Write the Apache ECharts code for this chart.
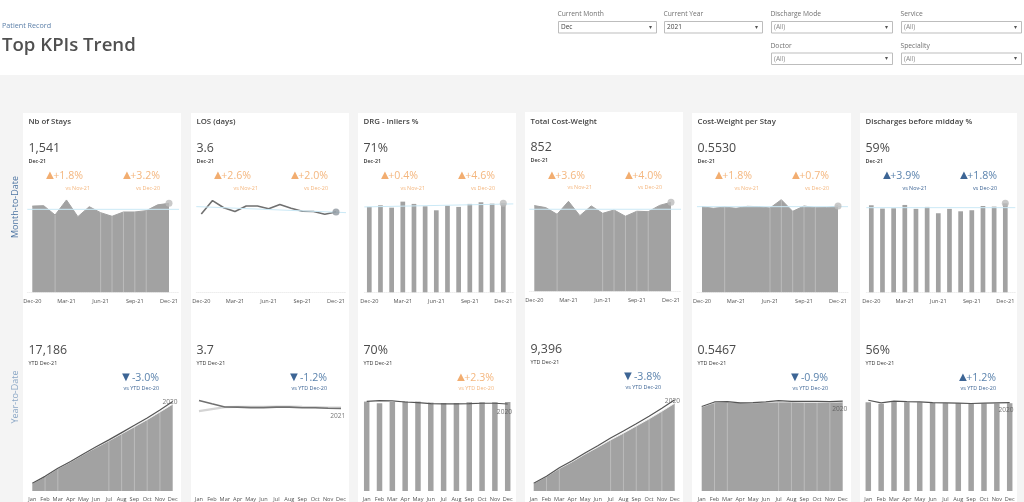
<!DOCTYPE html>
<html><head><meta charset="utf-8">
<style>html,body{margin:0;padding:0;background:#fff;overflow:hidden}#c{width:1024px;height:502px;filter:blur(0.4px)}</style>
<script src="https://cdn.jsdelivr.net/npm/echarts@6/dist/echarts.min.js"></script>
</head><body><div id="c"></div>
<script>
// ---- labels ----
const pageSubtitle = 'Patient Record';
const pageTitle = 'Top KPIs Trend';
const kpiNames = ['Nb of Stays','LOS (days)','DRG - Inliers %','Total Cost-Weight','Cost-Weight per Stay','Discharges before midday %'];
const mtdTickLabels = ['Dec-20','Mar-21','Jun-21','Sep-21','Dec-21'];
const monthLabels = ['Jan','Feb','Mar','Apr','May','Jun','Jul','Aug','Sep','Oct','Nov','Dec'];
// ---- month-to-date series (Dec-20 .. Dec-21) ----
const mtdStays = [1493,1500,1339,1599,1310,1483,1379,1316,1391,1391,1414,1514,1541];
const mtdLos = [3.51,4.11,3.79,3.62,3.87,3.87,3.74,3.93,3.77,3.63,3.62,3.50,3.6];
const mtdDrg = [68.1,69.4,67.5,72.3,70.5,68.6,65.4,69.1,68.1,70.5,71.8,70.7,71];
const mtdCost = [820,801,737,861,724,817,746,778,718,766,762,822,852];
const mtdCostPerStay = [0.5487,0.538,0.5466,0.538,0.5508,0.5487,0.5402,0.5935,0.5188,0.553,0.5423,0.5432,0.553];
const mtdMidday = [57.7,55.5,55.7,57.9,55.3,56.6,52.4,55.3,53.7,54.4,57.2,56.8,59];
// reference trend line, start and end value
const trendStays = [1437,1437];
const trendLos = [3.84,3.57];
const trendDrg = [68.1,70.5];
const trendCost = [785,785];
const trendCostPerStay = [0.5487,0.5487];
const trendMidday = [56.1,56.1];
// ---- year-to-date series, current year ----
const ytdStays = [1500,2840,4440,5750,7235,8615,9930,11320,12710,14125,15645,17186];
const ytdLos = [4.06,3.91,3.77,3.76,3.74,3.74,3.76,3.76,3.73,3.73,3.71,3.70];
const ytdDrg = [70.3,69,70,70.5,70.3,69.5,69.2,69.2,69.8,69.8,69.8,70];
const ytdCost = [805,1545,2405,3130,3950,4695,5475,6195,6960,7725,8545,9396];
const ytdCostPerStay = [0.5163,0.5427,0.5467,0.5427,0.5407,0.5447,0.5467,0.5467,0.5447,0.5447,0.5447,0.5467];
const ytdMidday = [56.6,55.6,56.8,56.6,56.6,56.2,56,56,55.8,55.8,55.8,56];
// ---- year-to-date series, previous year ----
const prevStays = [1530,2900,4510,5850,7340,8760,10120,11560,13000,14470,16040,17718];
const prevLos = [3.58,3.67,3.76,3.77,3.77,3.77,3.79,3.79,3.77,3.76,3.74,3.74];
const prevDrg = [70.5,71,70.8,70,69.5,68.7,68.5,68.5,68.7,69,69,68.4];
const prevCost = [825,1590,2480,3230,4070,4850,5670,6430,7210,8010,8860,9767];
const prevCostPerStay = [0.5184,0.5467,0.5487,0.5407,0.5427,0.5467,0.5548,0.5508,0.5508,0.5508,0.5487,0.5517];
const prevMidday = [57.9,56.2,57.3,57,56.8,56.4,56.2,56,55.8,56,56.2,56.4];
// ---- big numbers and deltas ----
const mtdValues = ['1,541','3.6','71%','852','0.5530','59%'];
const ytdValues = ['17,186','3.7','70%','9,396','0.5467','56%'];
const deltaPrevMonth = ['+1.8%','+2.6%','+0.4%','+3.6%','+1.8%','+3.9%'];
const deltaPrevYear = ['+3.2%','+2.0%','+4.6%','+4.0%','+0.7%','+1.8%'];
const deltaYtd = ['-3.0%','-1.2%','+2.3%','-3.8%','-0.9%','+1.2%'];
const mtdDeltaTone = ['o','o','o','o','o','b'];
const ytdDeltaTone = ['b','b','o','b','b','b'];
const filterLabels = ['Current Month','Current Year','Discharge Mode','Service','Doctor','Speciality'];
const filterValues = ['Dec','2021','(All)','(All)','(All)','(All)'];

const FONT = '"Open Sans","Noto Sans",sans-serif';
const GREY = '#a2a2a2', INK = '#4a4a4a', ORANGE = '#f4b67e', BLUE = '#5b83ad', BLUE_D = '#3d6595', TREND = '#cbe9f6';
const cardL = [23,191,358,525,692,860], cardW = [158,158,158,158,159,157];
const panels = [
 {kind:'area',mtd:mtdStays,trend:trendStays,ytd:ytdStays,prev:prevStays,x0:[32.3,169],x1:[32.3,172.7],mMax:1685,yMax:18806,lab:[-2.7,1],name:'2020'},
 {kind:'line',mtd:mtdLos,trend:trendLos,ytd:ytdLos,prev:prevLos,x0:[201.3,336],x1:[199,341],mMax:4.36,yMax:4.26,lab:[-3.3,8],name:'2021'},
 {kind:'bar',mtd:mtdDrg,trend:trendDrg,ytd:ytdDrg,prev:prevDrg,x0:[369.3,503.3],x1:[366.7,507.7],mMax:77.6,yMax:74.7,lab:[-3.3,8],name:'2020'},
 {kind:'area',mtd:mtdCost,trend:trendCost,ytd:ytdCost,prev:prevCost,x0:[534.3,671],x1:[533.7,674.7],mMax:931,yMax:10282,lab:[-2.3,1],name:'2020',dy:-1},
 {kind:'area',mtd:mtdCostPerStay,trend:trendCostPerStay,ytd:ytdCostPerStay,prev:prevCostPerStay,x0:[702,838],x1:[701.7,842.7],mMax:0.6234,yMax:0.5832,lab:[-3,7.7],name:'2020'},
 {kind:'bar',mtd:mtdMidday,trend:trendMidday,ytd:ytdMidday,prev:prevMidday,x0:[871.3,1005.3],x1:[868.3,1009.7],mMax:64.5,yMax:60.6,lab:[-3.7,8],name:'2020'}
];
const dividerIdxMtd = [2,6,7,8,9,10], dividerIdxYtd = [1,2,6,7,8,9,10];

const grid=[],xAxis=[],yAxis=[],series=[],graphic=[];
function txt(x,y,t,size,fill,o){graphic.push(Object.assign({type:'text',silent:true,x,y,style:{text:t,font:(o&&o.weight||'normal')+' '+size+'px '+FONT,fill,textAlign:o&&o.align||'left',textVerticalAlign:'middle'}},o&&o.extra||{}));}
function rect(x,y,w,h,fill,stroke){graphic.push({type:'rect',silent:true,z:-5,shape:{x,y,width:w,height:h},style:{fill,stroke:stroke||null,lineWidth:1}});}

// page
rect(0,75,1024,427,'#f4f4f4');
cardL.forEach((l,i)=>rect(l,i===3?112:113,cardW[i],390,'#ffffff'));
txt(2,25.5,pageSubtitle,7.2,'#5b7fa8');
txt(2,46,pageTitle,18.6,'#505050',{weight:'600'});
txt(15,207,'Month-to-Date',9,'#4f76a3',{align:'center',extra:{rotation:Math.PI/2}});
txt(15,397,'Year-to-Date',9,'#8ba7c6',{align:'center',extra:{rotation:Math.PI/2}});
// filters
const fx=[[558,98],[664,98],[771,121],[901,120],[771,121],[901,120]], fy=[21,21,21,21,52.5,52.5];
filterLabels.forEach((t,i)=>{
 txt(fx[i][0]-0.5,fy[i]-6.5,t,6.7,'#707070');
 rect(fx[i][0]+.5,fy[i]+.5,fx[i][1],11.5,'#fff','#bdbdbd');
 txt(fx[i][0]+3,fy[i]+6.5,filterValues[i],6.5,i<2?'#444':'#888');
 txt(fx[i][0]+fx[i][1]-6,fy[i]+6,'▾',6,'#555',{align:'center'});
});

function addPanel(rowTop,base,x0,x1,max,count,labelIdx,labels,margin,baseColor){
 const step=(x1-x0)/(count-1), padL=5, padR=10;
 const id=grid.length;
 grid.push({left:x0-padL,width:x1-x0+padL+padR,top:rowTop,height:base-rowTop});
 xAxis.push({gridIndex:id,type:'value',min:-padL/step,max:count-1+padR/step,splitLine:{show:false},axisTick:{show:false},
  axisLine:{show:!!baseColor,lineStyle:{color:baseColor||'#fff',type:'dotted',width:1},onZero:false},
  axisLabel:{show:true,customValues:labelIdx,formatter:v=>labels[labelIdx.indexOf(Math.round(v))],fontSize:5.6,fontFamily:FONT,color:'#555',margin,hideOverlap:false}});
 yAxis.push({gridIndex:id,type:'value',min:0,max,show:false});
 return {id,step,min:-padL/step,max:count-1+padR/step};
}
const pts=a=>a.map((v,i)=>[i,v]);
function drawValues(ax,kind,vals,dividers,barW,lineColor){
 const base={xAxisIndex:ax.id,yAxisIndex:ax.id,animation:false,silent:true};
 if(kind==='area'){
  series.push(Object.assign({},base,{type:'line',data:pts(vals),showSymbol:false,symbol:'none',lineStyle:{color:lineColor||GREY,width:1},areaStyle:{color:GREY,opacity:1},z:2}));
  series.push(Object.assign({},base,{type:'bar',data:dividers.map(i=>[i,vals[i]]),barWidth:0.8,itemStyle:{color:'rgba(255,255,255,0.28)'},z:3}));
 } else if(kind==='bar'){
  series.push(Object.assign({},base,{type:'bar',data:pts(vals),barWidth:barW,itemStyle:{color:GREY},z:2}));
 } else {
  series.push(Object.assign({},base,{type:'line',data:pts(vals),showSymbol:false,symbol:'none',lineStyle:{color:'#707070',width:1.6},z:4}));
 }
}
panels.forEach((p,i)=>{
 const dy=p.dy||0, c=cardL[i], l=c+5.5;
 // month-to-date
 const a=addPanel(195+dy,292.3+dy,p.x0[0],p.x0[1],p.mMax,13,[0,3,6,9,12],mtdTickLabels,6,'#eeeeee');
 drawValues(a,p.kind,p.mtd,dividerIdxMtd,4.7);
 series.push({type:'line',xAxisIndex:a.id,yAxisIndex:a.id,animation:false,silent:true,showSymbol:false,symbol:'none',data:[[a.min,p.trend[0]],[a.max,p.trend[1]]],lineStyle:{color:TREND,width:1},z:5});
 series.push({type:'scatter',xAxisIndex:a.id,yAxisIndex:a.id,animation:false,silent:true,data:[[12,p.mtd[12]]],symbolSize:7,itemStyle:{color:p.kind==='line'?'#8e979f':'#bcbcbc'},z:6});
 // year-to-date
 const b=addPanel(396+dy,492.7+dy,p.x1[0],p.x1[1],p.yMax,12,monthLabels.map((m,k)=>k),monthLabels,5,null);
 if(p.kind==='line'){
  series.push({type:'line',xAxisIndex:b.id,yAxisIndex:b.id,animation:false,silent:true,showSymbol:false,symbol:'none',data:pts(p.prev),lineStyle:{color:'#d4d4d4',width:2.2},z:3});
  drawValues(b,'line',p.ytd);
 } else {
  drawValues(b,p.kind,p.ytd,dividerIdxYtd,5.5,'#eeeeee');
  series.push({type:'line',xAxisIndex:b.id,yAxisIndex:b.id,animation:false,silent:true,showSymbol:false,symbol:'none',data:pts(p.prev),lineStyle:{color:'#555555',width:1.2},z:5});
 }
 const last=p.name==='2021'?p.ytd[11]:p.prev[11];
 series.push({type:'scatter',name:p.name,xAxisIndex:b.id,yAxisIndex:b.id,animation:false,silent:true,data:[[11,last]],symbolSize:1,itemStyle:{color:'transparent'},z:7,
  label:{show:true,position:'inside',formatter:()=>p.name,fontSize:6.6,fontFamily:FONT,color:'#555',offset:p.lab}});
 // texts
 txt(l,122,kpiNames[i],7.8,'#444',{weight:'600'});
 txt(l,148+dy,mtdValues[i],12.4,INK);
 txt(l,161+dy,'Dec-21',5.4,'#333',{weight:'600'});
 const tone=mtdDeltaTone[i]==='o'?ORANGE:BLUE, dark=mtdDeltaTone[i]==='o'?'#f2ad70':BLUE_D;
 [[60,deltaPrevMonth[i],67,'vs Nov-21'],[137,deltaPrevYear[i],137,'vs Dec-20']].forEach(d=>{
  txt(c+d[0],176+dy/2,d[1],10.6,tone,{align:'right'});
  txt(c+d[0]-33,175.5+dy/2,'▲',13,dark,{align:'center'});
  txt(c+d[2],188+dy,d[3],5.4,mtdDeltaTone[i]==='o'?ORANGE:BLUE_D,{align:'right'});
 });
 txt(l,350.7+dy,ytdValues[i],12.4,INK);
 txt(l,363.7+dy,'YTD Dec-21',5.4,'#333');
 const t2=ytdDeltaTone[i]==='o'?ORANGE:BLUE, d2=ytdDeltaTone[i]==='o'?'#f2ad70':BLUE_D;
 txt(c+136,378+dy,deltaYtd[i],10.6,t2,{align:'right'});
 txt(c+136-33,377.5+dy,deltaYtd[i][0]==='+'?'▲':'▼',13,d2,{align:'center'});
 txt(c+136,388.7+dy,'vs YTD Dec-20',5.4,ytdDeltaTone[i]==='o'?ORANGE:BLUE_D,{align:'right'});
});

const chart=echarts.init(document.getElementById('c'),null,{renderer:'canvas',width:1024,height:502});
chart.setOption({animation:false,backgroundColor:'#fff',grid,xAxis,yAxis,series,graphic});
</script></body></html>
